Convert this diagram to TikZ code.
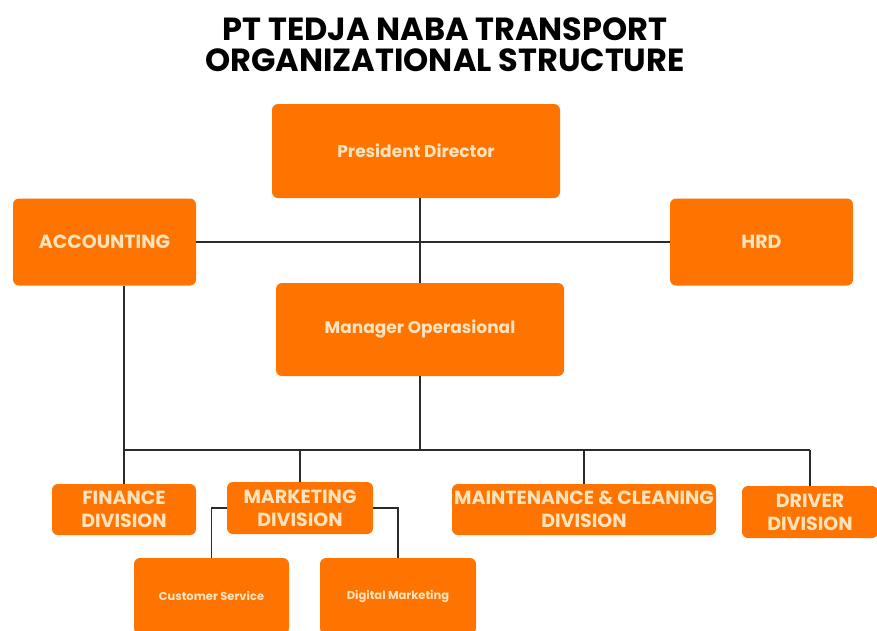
\documentclass[tikz,border=0pt]{standalone}
\usepackage{fontspec}
\setmainfont{Poppins}
\definecolor{boxorange}{HTML}{FF7300}
\definecolor{boxtext}{HTML}{FFE3BC}
\definecolor{linegray}{HTML}{2A2A2A}
\begin{document}
\begin{tikzpicture}[x=1pt,y=-1pt,
  unit/.style={fill=boxorange, rounded corners=6pt, inner sep=0pt,
    text=boxtext, align=center, font=\bfseries\fontsize{17}{20}\selectfont},
  capsbox/.style={unit, font=\bfseries\fontsize{19}{23}\selectfont},
  smallbox/.style={unit, font=\bfseries\fontsize{11.5}{14}\selectfont},
  link/.style={draw=linegray, line width=1.8pt}]
\useasboundingbox (0,0) rectangle (877,630);
\fill[white] (0,0) rectangle (877,630);

% title
\node[font=\bfseries\fontsize{32}{31}\selectfont, align=center] (title) at (445,45)
  {PT TEDJA NABA TRANSPORT\\ORGANIZATIONAL STRUCTURE};

% top level
\node[unit, minimum width=288, minimum height=94] (pres) at (416,151) {President Director};
\node[capsbox, minimum width=183, minimum height=87] (acc) at (104.5,242) {ACCOUNTING};
\node[capsbox, minimum width=183, minimum height=87] (hrd) at (761.5,242) {HRD};
\node[unit, minimum width=288, minimum height=93] (mgr) at (420,329.5) {Manager Operasional};

% divisions
\node[capsbox, minimum width=144, minimum height=51] (fin) at (124,509.5) {FINANCE\\DIVISION};
\node[capsbox, minimum width=146, minimum height=52] (mkt) at (300,508) {MARKETING\\DIVISION};
\node[capsbox, minimum width=264, minimum height=51] (mnt) at (584,509.5) {MAINTENANCE \& CLEANING\\DIVISION};
\node[capsbox, minimum width=136, minimum height=52] (drv) at (810,512) {DRIVER\\DIVISION};

% marketing sub-units
\node[smallbox, minimum width=155, minimum height=76] (cs) at (211.5,596) {Customer Service};
\node[smallbox, minimum width=156, minimum height=76] (dm) at (398,596) {Digital Marketing};

% connectors
\coordinate (bus) at (0,450);
\draw[link] (pres.south -| mgr.north) -- (mgr.north);
\draw[link] (acc.east) -- (hrd.west);
\draw[link] (acc.south -| fin.north) -- (fin.north);
\draw[link] (mgr.south) -- (mgr.south |- bus);
\draw[link] (fin.north |- bus) -- (drv.north |- bus);
\draw[link] (mkt.north |- bus) -- (mkt.north);
\draw[link] (mnt.north |- bus) -- (mnt.north);
\draw[link] (drv.north |- bus) -- (drv.north);
\draw[link] (mkt.west) -| (cs.north);
\draw[link] (mkt.east) -| (dm.north);
\end{tikzpicture}
\end{document}
